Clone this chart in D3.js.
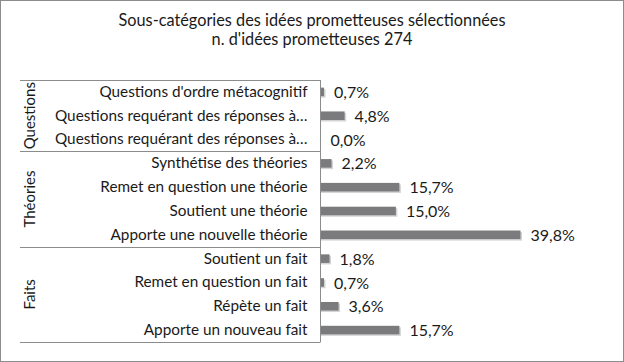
<!DOCTYPE html>
<html><head><meta charset="utf-8">
<script src="https://cdn.jsdelivr.net/npm/d3@7"></script>
<style>body{margin:0;background:#fff}svg{display:block}text{font-family:Lato,"Open Sans",sans-serif;fill:#1a1a1a}</style>
</head><body><div id="chart"></div>
<script>
const titleLines = ["Sous-catégories des idées prometteuses sélectionnées", "n. d'idées prometteuses 274"];
const groups = ["Questions", "Théories", "Faits"];
const categories = [
  "Questions d'ordre métacognitif",
  "Questions requérant des réponses à…",
  "Questions requérant des réponses à…",
  "Synthétise des théories",
  "Remet en question une théorie",
  "Soutient une théorie",
  "Apporte une nouvelle théorie",
  "Soutient un fait",
  "Remet en question un fait",
  "Répète un fait",
  "Apporte un nouveau fait"
];
const categoryGroup = ["Questions","Questions","Questions","Théories","Théories","Théories","Théories","Faits","Faits","Faits","Faits"];
const values = [0.7, 4.8, 0.0, 2.2, 15.7, 15.0, 39.8, 1.8, 0.7, 3.6, 15.7];

const W = 624, H = 362;
const svg = d3.select("#chart").append("svg").attr("width", W).attr("height", H);
svg.append("rect").attr("x",0.5).attr("y",0.5).attr("width",W-1).attr("height",H-1)
  .attr("fill","#fff").attr("stroke","#8c8c8c");

svg.selectAll("text.title").data(titleLines).join("text").attr("class","title")
  .attr("x", 312).attr("y", (d,i)=>26+i*19).attr("text-anchor","middle")
  .attr("font-size", 16.3).text(d=>d);

const ids = categories.map((c,i)=>i);
const y = d3.scaleBand().domain(ids).range([80, 342]).paddingInner(0.64).paddingOuter(0.32);
const x = d3.scaleLinear().domain([0, 40]).range([320.5, 521.5]);

// bars shadow
svg.append("g").selectAll("rect").data(ids).join("rect")
  .attr("x", x(0)).attr("y", i=>y(i)+1.5)
  .attr("width", i=>values[i] > 0 ? x(values[i])-x(0)+1.5 : 0).attr("height", y.bandwidth())
  .attr("fill", "#d4d4d4");
svg.append("g").selectAll("rect").data(ids).join("rect")
  .attr("x", x(0)).attr("y", i=>y(i))
  .attr("width", i=>x(values[i])-x(0)).attr("height", y.bandwidth())
  .attr("fill", "#7b7b7d");

// value labels
svg.append("g").selectAll("text").data(ids).join("text")
  .attr("x", i=>x(values[i])+10).attr("y", i=>y(i)+y.bandwidth()/2).attr("dy","0.38em")
  .attr("font-size", 16)
  .text(i=>d3.format(".1f")(values[i]).replace(".", ",") + "%");

// axis (category labels)
const axis = d3.axisLeft(y).tickSize(0).tickPadding(13).tickFormat(i=>categories[i]);
const ag = svg.append("g").attr("transform", `translate(${x(0)},0)`).call(axis);
ag.select(".domain").attr("stroke","#8c8c8c").attr("d", `M0,80V342`);
ag.selectAll("text").attr("font-size", 15.3).style("font-family","Lato,sans-serif").attr("fill","#1a1a1a");

// group separators and labels
const gStart = groups.map(g=>categoryGroup.indexOf(g));
const gEnd = groups.map(g=>categoryGroup.lastIndexOf(g));
const edge = i => 80 + (342-80) * i / categories.length;
const lines = [0].concat(gEnd.map(e=>e+1));
svg.append("g").selectAll("line").data(lines).join("line")
  .attr("x1", 20).attr("x2", x(0)).attr("y1", i=>Math.round(edge(i))+0.5).attr("y2", i=>Math.round(edge(i))+0.5)
  .attr("stroke","#8c8c8c");
svg.append("g").selectAll("text").data(groups).join("text")
  .attr("transform",(g,k)=>`translate(30,${(edge(gStart[k])+edge(gEnd[k]+1))/2}) rotate(-90)`)
  .attr("text-anchor","middle").attr("dy","0.36em").attr("font-size",15).text(g=>g);
</script></body></html>
